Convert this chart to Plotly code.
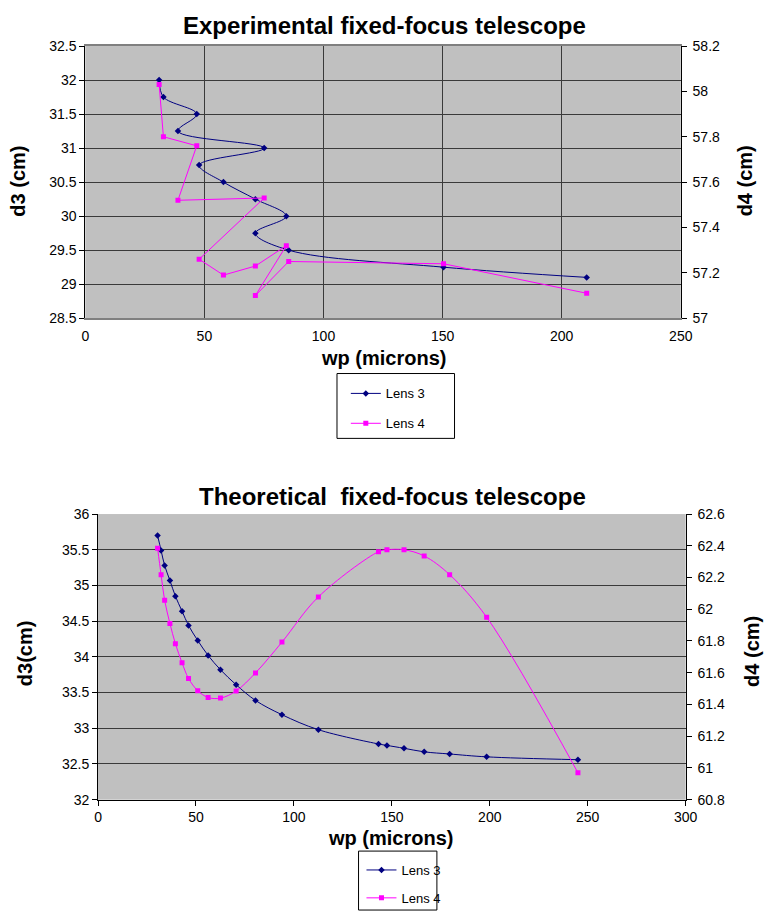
import plotly.graph_objects as go

# ---- Experimental fixed-focus telescope ----
exp_wp = [31.0, 32.8, 46.8, 38.9, 75.1, 47.8, 58.0, 71.4, 84.4, 71.4, 85.4, 150.4, 210.5]
exp_d3 = [32.0, 31.75, 31.5, 31.25, 31.0, 30.75, 30.5, 30.25, 30.0, 29.75, 29.5, 29.25, 29.1]
exp_d4 = [58.03, 57.80, 57.76, 57.52, 57.53, 57.26, 57.19, 57.23, 57.32, 57.10, 57.25, 57.24, 57.11]

# ---- Theoretical fixed-focus telescope ----
th_wp = [30.4, 32.2, 34.0, 36.7, 39.5, 42.9, 46.2, 50.9, 56.2, 62.5, 70.5,
         80.4, 93.9, 112.5, 143.2, 147.5, 156.2, 166.5, 179.5, 198.4, 245.0]
th_d3 = [35.70, 35.49, 35.28, 35.07, 34.85, 34.64, 34.44, 34.23, 34.02, 33.82, 33.61,
         33.39, 33.19, 32.98, 32.78, 32.76, 32.72, 32.67, 32.64, 32.60, 32.56]
th_d4 = [62.385, 62.218, 62.057, 61.911, 61.783, 61.663, 61.564, 61.487, 61.444, 61.440, 61.485,
         61.599, 61.793, 62.078, 62.363, 62.375, 62.375, 62.336, 62.218, 61.950, 60.970]

series_names = ["Lens 3", "Lens 4"]

W, H = 777, 920
FONT = "Liberation Sans, Arial, sans-serif"
NAVY = "#000080"
MAGENTA = "#FF00FF"
GRID = "#3a3a3a"


def px(x):
    return x / W


def py(y):
    return 1 - y / H


fig = go.Figure()

# top chart traces
fig.add_trace(go.Scatter(x=exp_wp, y=exp_d3, name=series_names[0], mode="lines+markers",
                         line=dict(color=NAVY, width=1, shape="spline"),
                         marker=dict(symbol="diamond", size=5, color=NAVY),
                         xaxis="x", yaxis="y", legend="legend", legendgroup="a"))
fig.add_trace(go.Scatter(x=exp_wp, y=exp_d4, name=series_names[1], mode="lines+markers",
                         line=dict(color=MAGENTA, width=1),
                         marker=dict(symbol="square", size=5, color=MAGENTA),
                         xaxis="x", yaxis="y2", legend="legend", legendgroup="b"))

# bottom chart traces
fig.add_trace(go.Scatter(x=th_wp, y=th_d3, name=series_names[0], mode="lines+markers",
                         line=dict(color=NAVY, width=1, shape="spline"),
                         marker=dict(symbol="diamond", size=5, color=NAVY),
                         xaxis="x2", yaxis="y3", legend="legend2", legendgroup="c"))
fig.add_trace(go.Scatter(x=th_wp, y=th_d4, name=series_names[1], mode="lines+markers",
                         line=dict(color=MAGENTA, width=1, shape="spline"),
                         marker=dict(symbol="square", size=5, color=MAGENTA),
                         xaxis="x2", yaxis="y4", legend="legend2", legendgroup="d"))

tickfont = dict(family=FONT, size=14, color="black")
top_x = [px(83), px(691)]
top_y = [py(315.7), py(38.7)]
bot_x = [px(96), px(696)]
bot_y = [py(805.7), py(515)]

fig.update_layout(
    width=W, height=H,
    margin=dict(l=0, r=0, t=0, b=0),
    paper_bgcolor="white",
    plot_bgcolor="#C0C0C0",
    font=dict(family=FONT, size=13, color="black"),
    xaxis=dict(domain=top_x, anchor="y", range=[0, 250], dtick=50, showgrid=True,
               gridcolor=GRID, gridwidth=1, zeroline=False, ticks="",
               showline=True, linecolor="#808080", linewidth=2, mirror=True,
               tickfont=tickfont, ticklabelstandoff=4),
    yaxis=dict(domain=top_y, anchor="x", range=[28.5, 32.5], dtick=0.5, showgrid=True,
               gridcolor=GRID, gridwidth=1, zeroline=False, ticks="outside", ticklen=5,
               tickcolor="black", showline=True, linecolor="black", linewidth=1,
               tickfont=tickfont),
    yaxis2=dict(overlaying="y", side="right", anchor="x", range=[57, 58.2], dtick=0.2,
                showgrid=False, zeroline=False, ticks="outside", ticklen=5, tickcolor="black",
                showline=True, linecolor="black", linewidth=1, tickfont=tickfont,
                ticklabelstandoff=3),
    yaxis5=dict(overlaying="y", side="right", anchor="x", range=[57, 58.2], dtick=0.2,
                showgrid=False, zeroline=False, ticks="inside", ticklen=5, tickcolor="black",
                showticklabels=False, showline=False),
    xaxis2=dict(domain=bot_x, anchor="y3", range=[0, 300], dtick=50, showgrid=False,
                zeroline=False, ticks="outside", ticklen=5, tickcolor="black",
                showline=True, linecolor="black", linewidth=1, mirror=False,
                tickfont=tickfont),
    yaxis3=dict(domain=bot_y, anchor="x2", range=[32, 36], dtick=0.5, showgrid=True,
                gridcolor=GRID, gridwidth=1, zeroline=False, ticks="outside", ticklen=5,
                tickcolor="black", showline=True, linecolor="black", linewidth=1,
                tickfont=tickfont),
    yaxis4=dict(overlaying="y3", side="right", anchor="x2", range=[60.8, 62.6], dtick=0.2,
                showgrid=False, zeroline=False, ticks="outside", ticklen=5, tickcolor="black",
                showline=True, linecolor="black", linewidth=1, tickfont=tickfont,
                ticklabelstandoff=3),
    yaxis6=dict(overlaying="y3", side="right", anchor="x2", range=[60.8, 62.6], dtick=0.2,
                showgrid=False, zeroline=False, ticks="inside", ticklen=5, tickcolor="black",
                showticklabels=False, showline=False),
    legend=dict(x=px(349), y=py(377), xanchor="left", yanchor="top",
                bgcolor="rgba(0,0,0,0)", borderwidth=0, tracegroupgap=10,
                font=dict(family=FONT, size=13, color="black")),
    legend2=dict(x=px(365), y=py(862), xanchor="left", yanchor="top",
                 bgcolor="rgba(0,0,0,0)", borderwidth=0, tracegroupgap=8,
                 font=dict(family=FONT, size=13, color="black")),
    showlegend=True,
)

# legend frames
fig.add_shape(type="rect", xref="paper", yref="paper", x0=px(340), x1=px(460),
              y0=py(438), y1=py(372), line=dict(color="black", width=1),
              fillcolor="white", layer="below")
fig.add_shape(type="rect", xref="paper", yref="paper", x0=px(362), x1=px(442),
              y0=py(918), y1=py(858), line=dict(color="black", width=1),
              fillcolor="white", layer="below")

title_font = dict(family=FONT, size=24, color="black", weight="bold")
axis_font = dict(family=FONT, size=20, color="black", weight="bold")


def note(text, x, y, font, angle=0):
    fig.add_annotation(text=text, x=px(x), y=py(y), xref="paper", yref="paper",
                       showarrow=False, font=font, textangle=angle,
                       xanchor="center", yanchor="middle")


note("Experimental fixed-focus telescope", 389, 18, title_font)
note("wp (microns)", 387, 356, axis_font)
note("d3 (cm)", 14, 176, axis_font, -90)
note("d4 (cm)", 757, 176, axis_font, -90)

note("Theoretical\u00a0 fixed-focus telescope", 397, 497, title_font)
note("wp (microns)", 395, 845, axis_font)
note("d3(cm)", 21, 657, axis_font, -90)
note("d4 (cm)", 763, 655, axis_font, -90)

# the figure fills the page edge to edge
fig.write_html("out.html", post_script="document.body.style.margin='0';")
